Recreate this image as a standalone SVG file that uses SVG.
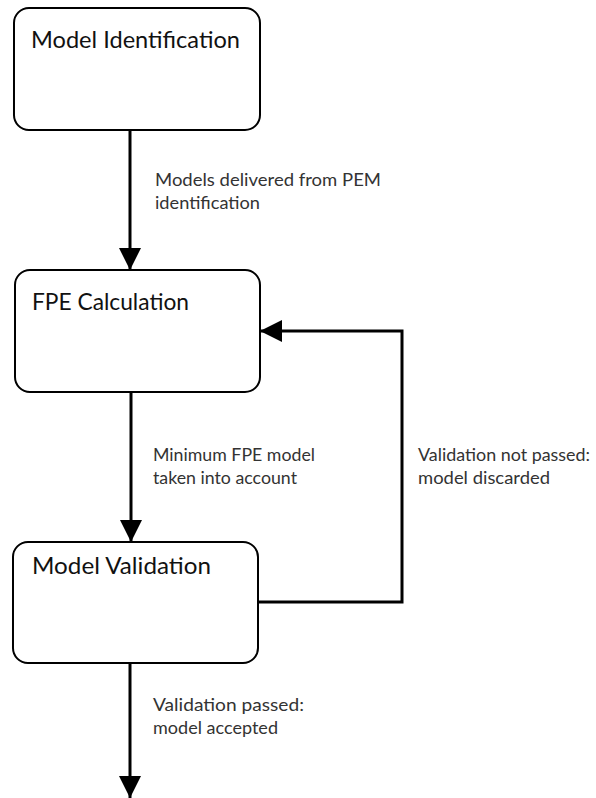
<svg xmlns="http://www.w3.org/2000/svg" width="596" height="798" viewBox="0 0 596 798">
<style>
.box{fill:#fff;stroke:#000;stroke-width:2}
.title{font-family:Lato,"Open Sans","Liberation Sans",sans-serif;font-size:22.5px;fill:#111}
.lbl{font-family:Lato,"Open Sans","Liberation Sans",sans-serif;font-size:17.5px;fill:#333}
.con{fill:none;stroke:#000;stroke-width:3}
</style>
<defs>
<marker id="ah" viewBox="0 0 22 22" refX="22" refY="11" markerWidth="22" markerHeight="22" markerUnits="userSpaceOnUse" orient="auto">
<path d="M0,0 L22,11 L0,22 z" fill="#000"/>
</marker>
</defs>
<rect width="596" height="798" fill="#fff"/>
<g id="connectors">
<path class="con" d="M130,130 V270" marker-end="url(#ah)"/>
<path class="con" d="M131,392 V542" marker-end="url(#ah)"/>
<path class="con" d="M258,602 H402 V331 H260" marker-end="url(#ah)"/>
<path class="con" d="M130,663 V798" marker-end="url(#ah)"/>
<text class="lbl" x="155" y="186" textLength="226" lengthAdjust="spacingAndGlyphs">Models delivered from PEM</text>
<text class="lbl" x="155" y="209" textLength="105" lengthAdjust="spacingAndGlyphs">identification</text>
<text class="lbl" x="153" y="461" textLength="162" lengthAdjust="spacingAndGlyphs">Minimum FPE model</text>
<text class="lbl" x="153" y="484" textLength="144" lengthAdjust="spacingAndGlyphs">taken into account</text>
<text class="lbl" x="418" y="461" textLength="172" lengthAdjust="spacingAndGlyphs">Validation not passed:</text>
<text class="lbl" x="418" y="484" textLength="132" lengthAdjust="spacingAndGlyphs">model discarded</text>
<text class="lbl" x="153" y="711" textLength="151" lengthAdjust="spacingAndGlyphs">Validation passed:</text>
<text class="lbl" x="153" y="734" textLength="125" lengthAdjust="spacingAndGlyphs">model accepted</text>
</g>
<g id="model-identification">
<rect class="box" x="14" y="8" width="246" height="122" rx="15"/>
<text class="title" x="31" y="48" textLength="209" lengthAdjust="spacingAndGlyphs">Model Identification</text>
</g>
<g id="fpe-calculation">
<rect class="box" x="15" y="270" width="245" height="122" rx="15"/>
<text class="title" x="32" y="310" textLength="157" lengthAdjust="spacingAndGlyphs">FPE Calculation</text>
</g>
<g id="model-validation">
<rect class="box" x="13" y="542" width="245" height="121" rx="15"/>
<text class="title" x="32" y="574" textLength="179" lengthAdjust="spacingAndGlyphs">Model Validation</text>
</g>
</svg>
